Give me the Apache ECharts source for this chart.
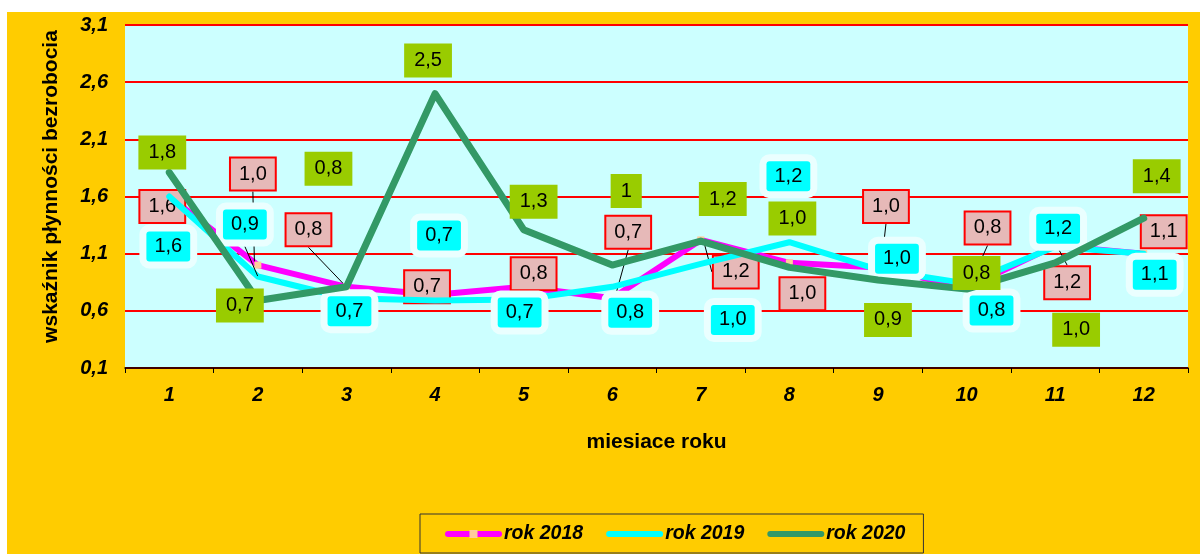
<!DOCTYPE html>
<html>
<head>
<meta charset="utf-8">
<script src="https://cdn.jsdelivr.net/npm/echarts@6/dist/echarts.min.js"></script>
<style>
html,body{margin:0;padding:0;background:#ffffff;}
#chart{width:1200px;height:554px;}
</style>
</head>
<body>
<div id="chart"></div>
<script>
// ---------- data ----------
const months = ['1','2','3','4','5','6','7','8','9','10','11','12'];
const yMin = 0.1, yMax = 3.1, yStep = 0.5;

const rok2018 = [1.60, 1.00, 0.81, 0.74, 0.81, 0.71, 1.22, 1.02, 0.98, 0.80, 1.17, 1.10];
const rok2019 = [1.60, 0.90, 0.71, 0.69, 0.70, 0.81, 1.01, 1.20, 0.96, 0.84, 1.16, 1.10];
const rok2020 = [1.81, 0.69, 0.81, 2.50, 1.31, 1.00, 1.21, 0.98, 0.87, 0.79, 1.02, 1.41];

const labels2018 = ['1,6','1,0','0,8','0,7','0,8','0,7','1,2','1,0','1,0','0,8','1,2','1,1'];
const labels2019 = ['1,6','0,9','0,7','0,7','0,7','0,8','1,0','1,2','1,0','0,8','1,2','1,1'];
const labels2020 = ['1,8','0,7','0,8','2,5','1,3','1','1,2','1,0','0,9','0,8','1,0','1,4'];

// ---------- label placement (style only: pixel offsets of data labels) ----------
const off2018 = [[-7,10],[-5,-91],[-38,-57],[-8,-8],[10,-13],[16,-66],[35,32],[13,31],[8,-61],[21,-60],[12,37],[20,-22]];
const off2019 = [[-1,50],[-13,-52],[3,13],[4,-65],[-4,13],[18,26],[32,56],[-1,-66],[19,-11],[25,27],[3,-18],[11,21]];
const off2020 = [[-7,-20],[-18,5],[-18,-118],[-7,-33],[10,-28],[14,-74],[22,-42],[3,-49],[10,40],[10,-16],[21,67],[13,-42]];
const leader2018 = [false,true,true,false,false,true,true,false,true,true,true,false];
const leader2019 = [false,true,false,false,false,false,false,false,false,false,false,false];

const FONT = "'Liberation Sans', Arial, sans-serif";
const offsets = [off2018, off2019, off2020];

function buildData(values, labels, leaders) {
  return values.map((v, i) => {
    const item = { value: v, label: { formatter: labels[i] } };
    if (leaders && leaders[i]) {
      item.labelLine = { show: true, lineStyle: { color: '#000', width: 1 } };
    }
    return item;
  });
}

const baseLabel = {
  show: true,
  position: 'inside',
  color: '#000',
  fontFamily: FONT,
  fontSize: 20,
  align: 'center',
  verticalAlign: 'middle'
};

const chart = echarts.init(document.getElementById('chart'));
chart.setOption({
  animation: false,
  backgroundColor: 'transparent',
  graphic: {
    elements: [{
      type: 'rect', silent: true, z: -100,
      shape: { x: 7, y: 12, width: 1193, height: 542 },
      style: { fill: '#FFCC00' }
    }]
  },
  grid: {
    left: 125, right: 12, top: 25, bottom: 186,
    show: true, backgroundColor: '#CCFFFF', borderWidth: 0
  },
  legend: {
    left: 420, top: 514,
    padding: [10, 18, 9, 25],
    itemWidth: 51, itemHeight: 10, itemGap: 23,
    borderColor: '#333', borderWidth: 1,
    backgroundColor: '#FFCC00',
    lineStyle: { width: 6, cap: 'round' },
    textStyle: { fontFamily: FONT, fontSize: 19.5, fontWeight: 'bold', fontStyle: 'italic', color: '#000' },
    data: ['rok 2018', 'rok 2019', 'rok 2020']
  },
  xAxis: {
    type: 'category',
    data: months,
    boundaryGap: true,
    name: 'miesiace roku',
    nameLocation: 'middle',
    nameGap: 64,
    nameTextStyle: { fontFamily: FONT, fontSize: 21, fontWeight: 'bold', color: '#000' },
    axisLine: { show: true, lineStyle: { color: '#000', width: 1.5 } },
    axisTick: { show: true, length: 5, lineStyle: { color: '#000' } },
    axisLabel: { interval: 0, margin: 17, fontFamily: FONT, fontSize: 20, fontWeight: 'bold', fontStyle: 'italic', color: '#000' },
    splitLine: { show: false }
  },
  yAxis: {
    type: 'value',
    min: yMin, max: yMax, interval: yStep,
    name: 'wskaźnik płynności bezrobocia',
    nameLocation: 'middle',
    nameGap: 63,
    nameRotate: 90,
    nameTextStyle: { fontFamily: FONT, fontSize: 21, fontWeight: 'bold', color: '#000', padding: [0, 0, 0, 20] },
    axisLine: { show: false },
    axisTick: { show: false },
    axisLabel: {
      margin: 17, fontFamily: FONT, fontSize: 20, fontWeight: 'bold', fontStyle: 'italic', color: '#000',
      formatter: v => v.toFixed(1).replace('.', ',')
    },
    splitLine: { show: true, lineStyle: { color: '#FF0000', width: 2 } }
  },
  labelLayout: function (p) {
    const o = offsets[p.seriesIndex][p.dataIndex];
    return { dx: o[0], dy: o[1] };
  },
  series: [
    {
      name: 'rok 2018', type: 'line',
      data: buildData(rok2018, labels2018, leader2018),
      symbol: 'rect', symbolSize: 7, showSymbol: true,
      itemStyle: { color: '#FFCC99' },
      lineStyle: { color: '#FF00FF', width: 6, cap: 'round', join: 'round' },
      label: Object.assign({}, baseLabel, {
        backgroundColor: '#E6B9B8', borderColor: '#FF0000', borderWidth: 2, padding: [6, 8, 5, 8]
      }),
      z: 2
    },
    {
      name: 'rok 2019', type: 'line',
      data: buildData(rok2019, labels2019, leader2019),
      symbol: 'circle', symbolSize: 1, showSymbol: true,
      itemStyle: { color: 'rgba(0,0,0,0)' },
      lineStyle: { color: '#00FFFF', width: 6, cap: 'round', join: 'round' },
      label: Object.assign({}, baseLabel, {
        backgroundColor: '#00FFFF', borderColor: '#EAFFFF', borderWidth: 7, borderRadius: 3, padding: [5, 8, 5, 8]
      }),
      z: 3
    },
    {
      name: 'rok 2020', type: 'line',
      data: buildData(rok2020, labels2020, null),
      symbol: 'circle', symbolSize: 1, showSymbol: true,
      itemStyle: { color: 'rgba(0,0,0,0)' },
      lineStyle: { color: '#339966', width: 7, cap: 'round', join: 'round' },
      label: Object.assign({}, baseLabel, {
        backgroundColor: '#99CC00', padding: [7, 10, 7, 10]
      }),
      z: 4
    }
  ]
});
</script>
</body>
</html>
